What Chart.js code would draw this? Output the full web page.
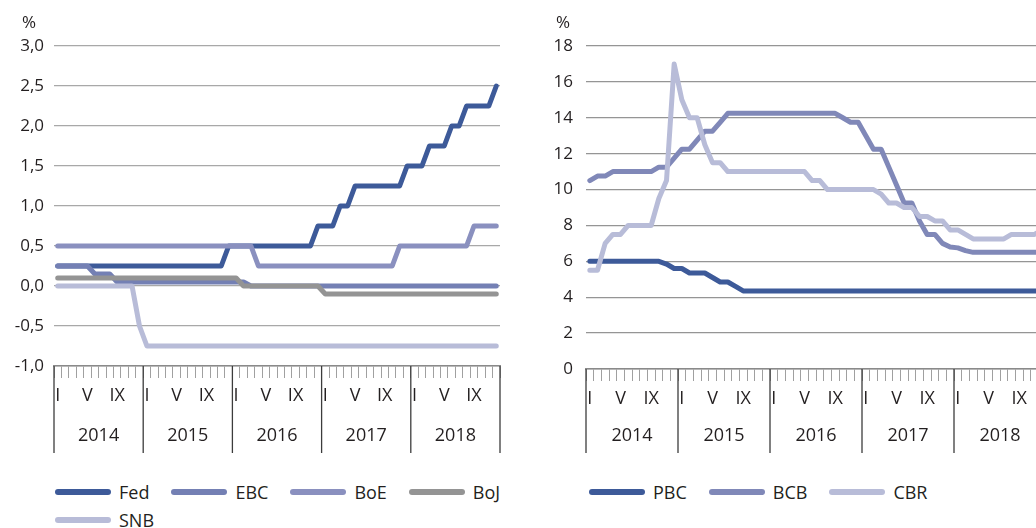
<!DOCTYPE html>
<html lang="pl">
<head>
<meta charset="utf-8">
<script src="https://cdn.jsdelivr.net/npm/chart.js@4.4.1/dist/chart.umd.min.js"></script>
<style>
  body { margin: 0; width: 1036px; height: 528px; overflow: hidden; background: #fff; position: relative;
         font-family: 'Open Sans', sans-serif; color: #231f20; }
  .wykres { position: absolute; top: 0; }
  .proc { position: absolute; top: 12px; font-size: 17px; line-height: 20px; }
  .legenda { position: absolute; display: flex; flex-wrap: wrap; column-gap: 22px; row-gap: 2px; font-size: 18px; }
  .poz { display: flex; align-items: center; height: 26px; }
  .linia { width: 56px; height: 6px; border-radius: 3px; margin-right: 8px; }
</style>
</head>
<body>
<div class="wykres" style="left:0"><canvas id="wykresLewy" width="520" height="465"></canvas></div>
<div class="wykres" style="left:532px"><canvas id="wykresPrawy" width="534" height="465"></canvas></div>
<div class="proc" style="left:22px">%</div>
<div class="proc" style="left:556px">%</div>
<div class="legenda" id="legendaLewa" style="left:55px; top:479px; width:460px"></div>
<div class="legenda" id="legendaPrawa" style="left:589px; top:479px; width:440px"></div>

<script>
// Dane: stopy procentowe, koniec miesiąca, I 2014 - XII 2018
const lata = ['2014', '2015', '2016', '2017', '2018'];
const miesiaceRzymskie = ['I', '', '', '', 'V', '', '', '', 'IX', '', '', ''];

const fed = [
    0.25, 0.25, 0.25, 0.25, 0.25, 0.25, 0.25, 0.25, 0.25, 0.25, 0.25, 0.25,
    0.25, 0.25, 0.25, 0.25, 0.25, 0.25, 0.25, 0.25, 0.25, 0.25, 0.25, 0.5,
    0.5, 0.5, 0.5, 0.5, 0.5, 0.5, 0.5, 0.5, 0.5, 0.5, 0.5, 0.75,
    0.75, 0.75, 1.0, 1.0, 1.25, 1.25, 1.25, 1.25, 1.25, 1.25, 1.25, 1.5,
    1.5, 1.5, 1.75, 1.75, 1.75, 2.0, 2.0, 2.25, 2.25, 2.25, 2.25, 2.5
];
const ebc = [
    0.25, 0.25, 0.25, 0.25, 0.25, 0.15, 0.15, 0.15, 0.05, 0.05, 0.05, 0.05,
    0.05, 0.05, 0.05, 0.05, 0.05, 0.05, 0.05, 0.05, 0.05, 0.05, 0.05, 0.05,
    0.05, 0.05, 0, 0, 0, 0, 0, 0, 0, 0, 0, 0,
    0, 0, 0, 0, 0, 0, 0, 0, 0, 0, 0, 0,
    0, 0, 0, 0, 0, 0, 0, 0, 0, 0, 0, 0
];
const boe = [
    0.5, 0.5, 0.5, 0.5, 0.5, 0.5, 0.5, 0.5, 0.5, 0.5, 0.5, 0.5,
    0.5, 0.5, 0.5, 0.5, 0.5, 0.5, 0.5, 0.5, 0.5, 0.5, 0.5, 0.5,
    0.5, 0.5, 0.5, 0.25, 0.25, 0.25, 0.25, 0.25, 0.25, 0.25, 0.25, 0.25,
    0.25, 0.25, 0.25, 0.25, 0.25, 0.25, 0.25, 0.25, 0.25, 0.25, 0.5, 0.5,
    0.5, 0.5, 0.5, 0.5, 0.5, 0.5, 0.5, 0.5, 0.75, 0.75, 0.75, 0.75
];
const boj = [
    0.1, 0.1, 0.1, 0.1, 0.1, 0.1, 0.1, 0.1, 0.1, 0.1, 0.1, 0.1,
    0.1, 0.1, 0.1, 0.1, 0.1, 0.1, 0.1, 0.1, 0.1, 0.1, 0.1, 0.1,
    0.1, 0, 0, 0, 0, 0, 0, 0, 0, 0, 0, 0,
    -0.1, -0.1, -0.1, -0.1, -0.1, -0.1, -0.1, -0.1, -0.1, -0.1, -0.1, -0.1,
    -0.1, -0.1, -0.1, -0.1, -0.1, -0.1, -0.1, -0.1, -0.1, -0.1, -0.1, -0.1
];
const snb = [
    0, 0, 0, 0, 0, 0, 0, 0, 0, 0, 0, -0.5,
    -0.75, -0.75, -0.75, -0.75, -0.75, -0.75, -0.75, -0.75, -0.75, -0.75, -0.75, -0.75,
    -0.75, -0.75, -0.75, -0.75, -0.75, -0.75, -0.75, -0.75, -0.75, -0.75, -0.75, -0.75,
    -0.75, -0.75, -0.75, -0.75, -0.75, -0.75, -0.75, -0.75, -0.75, -0.75, -0.75, -0.75,
    -0.75, -0.75, -0.75, -0.75, -0.75, -0.75, -0.75, -0.75, -0.75, -0.75, -0.75, -0.75
];

const pbc = [
    6, 6, 6, 6, 6, 6, 6, 6, 6, 6, 5.85, 5.6,
    5.6, 5.35, 5.35, 5.35, 5.1, 4.85, 4.85, 4.6, 4.35, 4.35, 4.35, 4.35,
    4.35, 4.35, 4.35, 4.35, 4.35, 4.35, 4.35, 4.35, 4.35, 4.35, 4.35, 4.35,
    4.35, 4.35, 4.35, 4.35, 4.35, 4.35, 4.35, 4.35, 4.35, 4.35, 4.35, 4.35,
    4.35, 4.35, 4.35, 4.35, 4.35, 4.35, 4.35, 4.35, 4.35, 4.35, 4.35, 4.35
];
const bcb = [
    10.5, 10.75, 10.75, 11, 11, 11, 11, 11, 11, 11.25, 11.25, 11.75,
    12.25, 12.25, 12.75, 13.25, 13.25, 13.75, 14.25, 14.25, 14.25, 14.25, 14.25, 14.25,
    14.25, 14.25, 14.25, 14.25, 14.25, 14.25, 14.25, 14.25, 14.25, 14.0, 13.75, 13.75,
    13.0, 12.25, 12.25, 11.25, 10.25, 9.25, 9.25, 8.25, 7.5, 7.5, 7.0, 6.8,
    6.75, 6.6, 6.5, 6.5, 6.5, 6.5, 6.5, 6.5, 6.5, 6.5, 6.5, 6.5
];
const cbr = [
    5.5, 5.5, 7.0, 7.5, 7.5, 8, 8, 8, 8, 9.5, 10.5, 17.0,
    15.0, 14.0, 14.0, 12.5, 11.5, 11.5, 11, 11, 11, 11, 11, 11,
    11, 11, 11, 11, 11, 10.5, 10.5, 10, 10, 10, 10, 10,
    10, 10, 9.75, 9.25, 9.25, 9.0, 9.0, 8.5, 8.5, 8.25, 8.25, 7.75,
    7.75, 7.5, 7.25, 7.25, 7.25, 7.25, 7.25, 7.5, 7.5, 7.5, 7.5, 7.75
];

// Kategorie osi X (miesiące)
const miesiace = lata.flatMap(r => miesiaceRzymskie.map((m, i) => r + '-' + (i + 1)));

Chart.defaults.font.family = "'Open Sans', sans-serif";
Chart.defaults.font.size = 17;
Chart.defaults.color = '#231f20';

// Pionowe kreski między latami i podpisy lat pod osią
const podzialLat = {
    id: 'podzialLat',
    afterDraw(chart) {
        const ctx = chart.ctx;
        const x = chart.scales.x;
        const gora = chart.chartArea.bottom;
        ctx.save();
        ctx.strokeStyle = '#3c3c3c';
        ctx.lineWidth = 1.3;
        ctx.fillStyle = '#231f20';
        ctx.font = "18px 'Open Sans'";
        ctx.textAlign = 'center';
        ctx.textBaseline = 'middle';
        for (let r = 0; r <= lata.length; r++) {
            const px = x.getPixelForValue(r * 12 - 0.5);
            ctx.beginPath();
            ctx.moveTo(px, gora);
            ctx.lineTo(px, 453);
            ctx.stroke();
            if (r < lata.length) {
                ctx.fillText(lata[r], x.getPixelForValue(r * 12 + 5.5), 436);
            }
        }
        ctx.restore();
    }
};

function seria(nazwa, dane, kolor, kolejnosc) {
    return {
        label: nazwa,
        data: dane,
        borderColor: kolor,
        backgroundColor: kolor,
        borderWidth: 5,
        borderCapStyle: 'round',
        borderJoinStyle: 'round',
        pointRadius: 0,
        tension: 0,
        fill: false,
        order: kolejnosc
    };
}

function utworzWykres(id, zestawy, osY, dolWykresu, siatka, odstepEtykiet) {
    const canvas = document.getElementById(id);
    return new Chart(canvas.getContext('2d'), {
        type: 'line',
        data: { labels: miesiace, datasets: zestawy },
        options: {
            responsive: false,
            animation: false,
            events: [],
            layout: { padding: { top: 46, right: 20, left: 0, bottom: 0 } },
            plugins: { legend: { display: false }, tooltip: { enabled: false } },
            scales: {
                x: {
                    offset: true,
                    afterFit: s => { s.height = canvas.height - dolWykresu; },
                    grid: { offset: true, drawOnChartArea: false, tickLength: 12, color: '#a0a0a0', lineWidth: 1 },
                    border: { display: true, color: '#8a8a8a', width: 1.5 },
                    ticks: {
                        autoSkip: false, maxRotation: 0, minRotation: 0, padding: 7,
                        font: { size: 18 },
                        callback: (v, i) => miesiaceRzymskie[i % 12]
                    }
                },
                y: Object.assign({
                    afterFit: s => { s.width = 54; },
                    grid: { color: siatka, lineWidth: 1.3, drawTicks: false },
                    border: { display: false },
                }, osY, { ticks: Object.assign({ padding: odstepEtykiet }, osY.ticks) })
            }
        },
        plugins: [podzialLat]
    });
}

utworzWykres('wykresLewy', [
    seria('Fed', fed, '#3d5a99', 5),
    seria('EBC', ebc, '#7480b4', 4),
    seria('BoE', boe, '#8a90bf', 3),
    seria('BoJ', boj, '#949494', 2),
    seria('SNB', snb, '#b8bcd8', 1)
], {
    min: -1, max: 3,
    ticks: { stepSize: 0.5, callback: v => v.toFixed(1).replace('.', ',') }
}, 366, '#a8a8a8', 10);

utworzWykres('wykresPrawy', [
    seria('PBC', pbc, '#3d5a99', 3),
    seria('BCB', bcb, '#8088b8', 2),
    seria('CBR', cbr, '#b8bcd8', 1)
], {
    min: 0, max: 18,
    ticks: { stepSize: 2 }
}, 369, '#959595', 13);

// Legendy pod wykresami
function legenda(id, nazwy, kolory) {
    const kontener = document.getElementById(id);
    nazwy.forEach((n, i) => {
        let poz = document.createElement('div');
        poz.className = 'poz';
        let linia = document.createElement('span');
        linia.className = 'linia';
        linia.style.background = kolory[i];
        poz.appendChild(linia);
        let tekst = document.createElement('span');
        tekst.textContent = n;
        poz.appendChild(tekst);
        kontener.appendChild(poz);
    });
}

legenda('legendaLewa', ['Fed', 'EBC', 'BoE', 'BoJ', 'SNB'], ['#3d5a99', '#7480b4', '#8a90bf', '#949494', '#b8bcd8']);
legenda('legendaPrawa', ['PBC', 'BCB', 'CBR'], ['#3d5a99', '#8088b8', '#b8bcd8']);
</script>
</body>
</html>
